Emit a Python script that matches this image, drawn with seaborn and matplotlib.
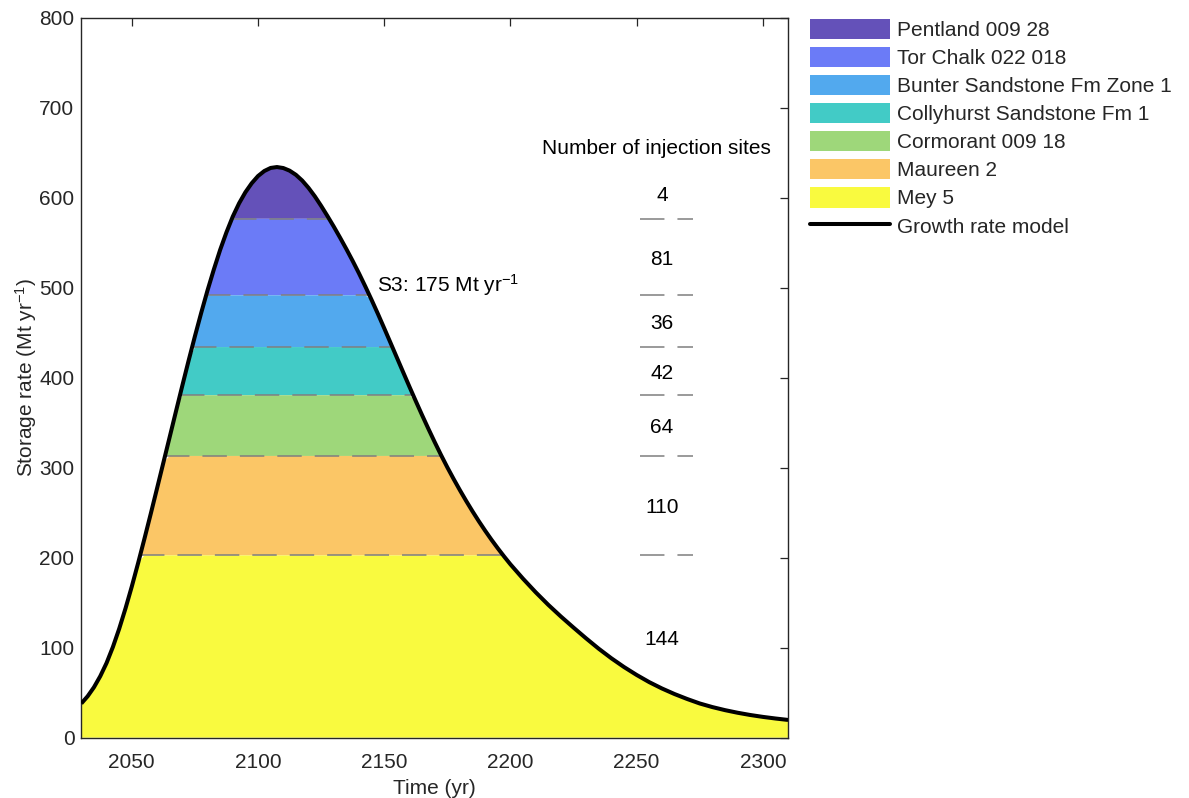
import numpy as np
import matplotlib
matplotlib.use("Agg")
import matplotlib.pyplot as plt
from matplotlib.patches import Patch
from matplotlib.lines import Line2D
import seaborn as sns

# Growth-rate model of CO2 storage rate (Mt/yr) by year
years = [2030, 2032.5, 2035, 2037.5, 2040, 2042.5, 2045, 2047.5, 2050, 2052.5,
         2055, 2057.5, 2060, 2062.5, 2065, 2067.5, 2070, 2072.5, 2075, 2077.5,
         2080, 2082.5, 2085, 2087.5, 2090, 2092.5, 2095, 2097.5, 2100, 2102.5,
         2105, 2107.5, 2110, 2112.5, 2115, 2117.5, 2120, 2122.5, 2125, 2127.5,
         2130, 2132.5, 2135, 2137.5, 2140, 2142.5, 2145, 2147.5, 2150, 2152.5,
         2155, 2157.5, 2160, 2162.5, 2165, 2167.5, 2170, 2172.5, 2175, 2177.5,
         2180, 2182.5, 2185, 2187.5, 2190, 2192.5, 2195, 2197.5, 2200,
         2205, 2210, 2215, 2220, 2225, 2230, 2235, 2240, 2245, 2250,
         2255, 2260, 2265, 2270, 2275, 2280, 2285, 2290, 2295, 2300, 2305, 2310]
rate = [38.0, 46.0, 56.0, 68.3, 83.0, 100.7, 121.0, 143.6, 168.0, 194.0,
        221.0, 248.7, 277.0, 305.5, 334.0, 362.6, 391.0, 418.9, 446.0, 472.1,
        497.0, 520.2, 542.0, 561.5, 579.0, 593.7, 606.0, 616.0, 624.0, 629.6,
        633.0, 634.0, 632.9, 630.0, 625.4, 619.0, 610.9, 601.5, 590.9, 579.6,
        567.9, 555.6, 542.9, 529.7, 515.9, 501.4, 486.4, 470.9, 454.9, 438.7,
        422.4, 406.1, 389.9, 374.0, 358.4, 343.2, 328.4, 314.1, 300.4, 287.4,
        274.9, 262.9, 251.4, 240.4, 229.9, 219.9, 210.4, 201.3, 192.6,
        176.6, 161.6, 147.6, 134.6, 122.3, 110.3, 98.8, 88.2, 78.5, 69.7,
        61.7, 54.7, 48.5, 43.0, 38.0, 34.0, 30.6, 27.7, 25.2, 23.1, 21.3, 19.7]

# Formations filling the curve, top band first
formations = ["Pentland 009 28", "Tor Chalk 022 018", "Bunter Sandstone Fm Zone 1",
              "Collyhurst Sandstone Fm 1", "Cormorant 009 18", "Maureen 2", "Mey 5"]
# Lower edge of each band (Mt/yr); the bottom band starts at zero
band_floor = [576.5, 491.5, 434, 380.5, 313, 202.5, 0]
# Number of injection sites per band
sites = [4, 81, 36, 42, 64, 110, 144]
colors = ["#6451B9", "#6B7BF7", "#52A9EE", "#42CBC6", "#9ED77A", "#FBC666", "#F9FA3F"]

x_ticks = [2050, 2100, 2150, 2200, 2250, 2300]
y_ticks = [0, 100, 200, 300, 400, 500, 600, 700, 800]

sns.set_theme(style="white")
plt.rcParams["font.family"] = ["Liberation Sans", "DejaVu Sans"]
plt.rcParams["mathtext.fontset"] = "custom"
plt.rcParams["mathtext.rm"] = "Liberation Sans"
plt.rcParams["mathtext.it"] = "Liberation Sans:italic"
plt.rcParams["mathtext.bf"] = "Liberation Sans:bold"

FS = 15
AX_COL = "#262626"

fig = plt.figure(figsize=(11.89, 7.98), dpi=100)
ax = fig.add_axes([0.0684, 0.0756, 0.5944, 0.9023])

x = np.asarray(years, dtype=float)
y = np.asarray(rate, dtype=float)
ipk = int(np.argmax(y))

# stacked bands clipped by the curve
for i, (name, col) in enumerate(zip(formations, colors)):
    lo = band_floor[i]
    top = y if i == 0 else np.minimum(y, band_floor[i - 1])
    ax.fill_between(x, lo, top, where=y >= lo, interpolate=True,
                    facecolor=col, edgecolor="none", linewidth=0, zorder=1)

# dashed band boundaries inside the curve and next to the site counts
dash = dict(color="#7f7f7f", lw=1.1, linestyle=(0, (16, 8.5)), zorder=2)
for lvl in band_floor[:-1]:
    xl = np.interp(lvl, y[:ipk + 1], x[:ipk + 1])
    xr = np.interp(lvl, y[ipk:][::-1], x[ipk:][::-1])
    ax.plot([xl, xr], [lvl, lvl], **dash)
    ax.plot([2251.5, 2272.5], [lvl, lvl], **dash)

# growth rate model curve
sns.lineplot(x=x, y=y, color="black", lw=2.9, ax=ax, zorder=3,
             estimator=None, sort=False, solid_joinstyle="round",
             solid_capstyle="butt")

# site counts centred in each band
uppers = [y.max()] + band_floor[:-1]
lowers = band_floor[:-1] + [y.min()]
for n, hi, lo in zip(sites, uppers, lowers):
    ax.text(2260, (hi + lo) / 2 - 2.5, str(n), ha="center", va="center",
            fontsize=FS, color="black")
ax.text(2258, 655, "Number of injection sites", ha="center", va="center",
        fontsize=FS, color="black")
ax.text(2147.2, 503, "S3: 175 Mt yr$^{-1}$", ha="left", va="center",
        fontsize=FS, color="black")

ax.set_xlim(2030, 2310)
ax.set_ylim(0, 800)
ax.set_xticks(x_ticks)
ax.set_yticks(y_ticks)
ax.tick_params(axis="both", which="major", direction="in", length=5.8,
               width=0.9, color=AX_COL, labelcolor=AX_COL, labelsize=FS,
               top=True, right=True)
ax.tick_params(axis="x", pad=11)
ax.tick_params(axis="y", pad=5)
for sp in ax.spines.values():
    sp.set_visible(True)
    sp.set_color(AX_COL)
    sp.set_linewidth(1.0)
ax.set_xlabel("Time (yr)", fontsize=FS, color=AX_COL, labelpad=5)
ax.set_ylabel("Storage rate (Mt yr$^{-1}$)", fontsize=FS, color=AX_COL, labelpad=0)
ax.grid(False)
ax.set_facecolor("white")

handles = [Patch(facecolor=c, edgecolor="none") for c in colors]
handles.append(Line2D([0], [0], color="black", lw=2.9))
labels = formations + ["Growth rate model"]
fig.legend(handles, labels, loc="upper left", bbox_to_anchor=(0.6812, 0.9765),
           frameon=False, fontsize=FS, handlelength=3.85, handleheight=1.12,
           handletextpad=0.35, labelspacing=0.33, borderpad=0, borderaxespad=0)

fig.savefig("out.png", dpi=100, facecolor="white")
